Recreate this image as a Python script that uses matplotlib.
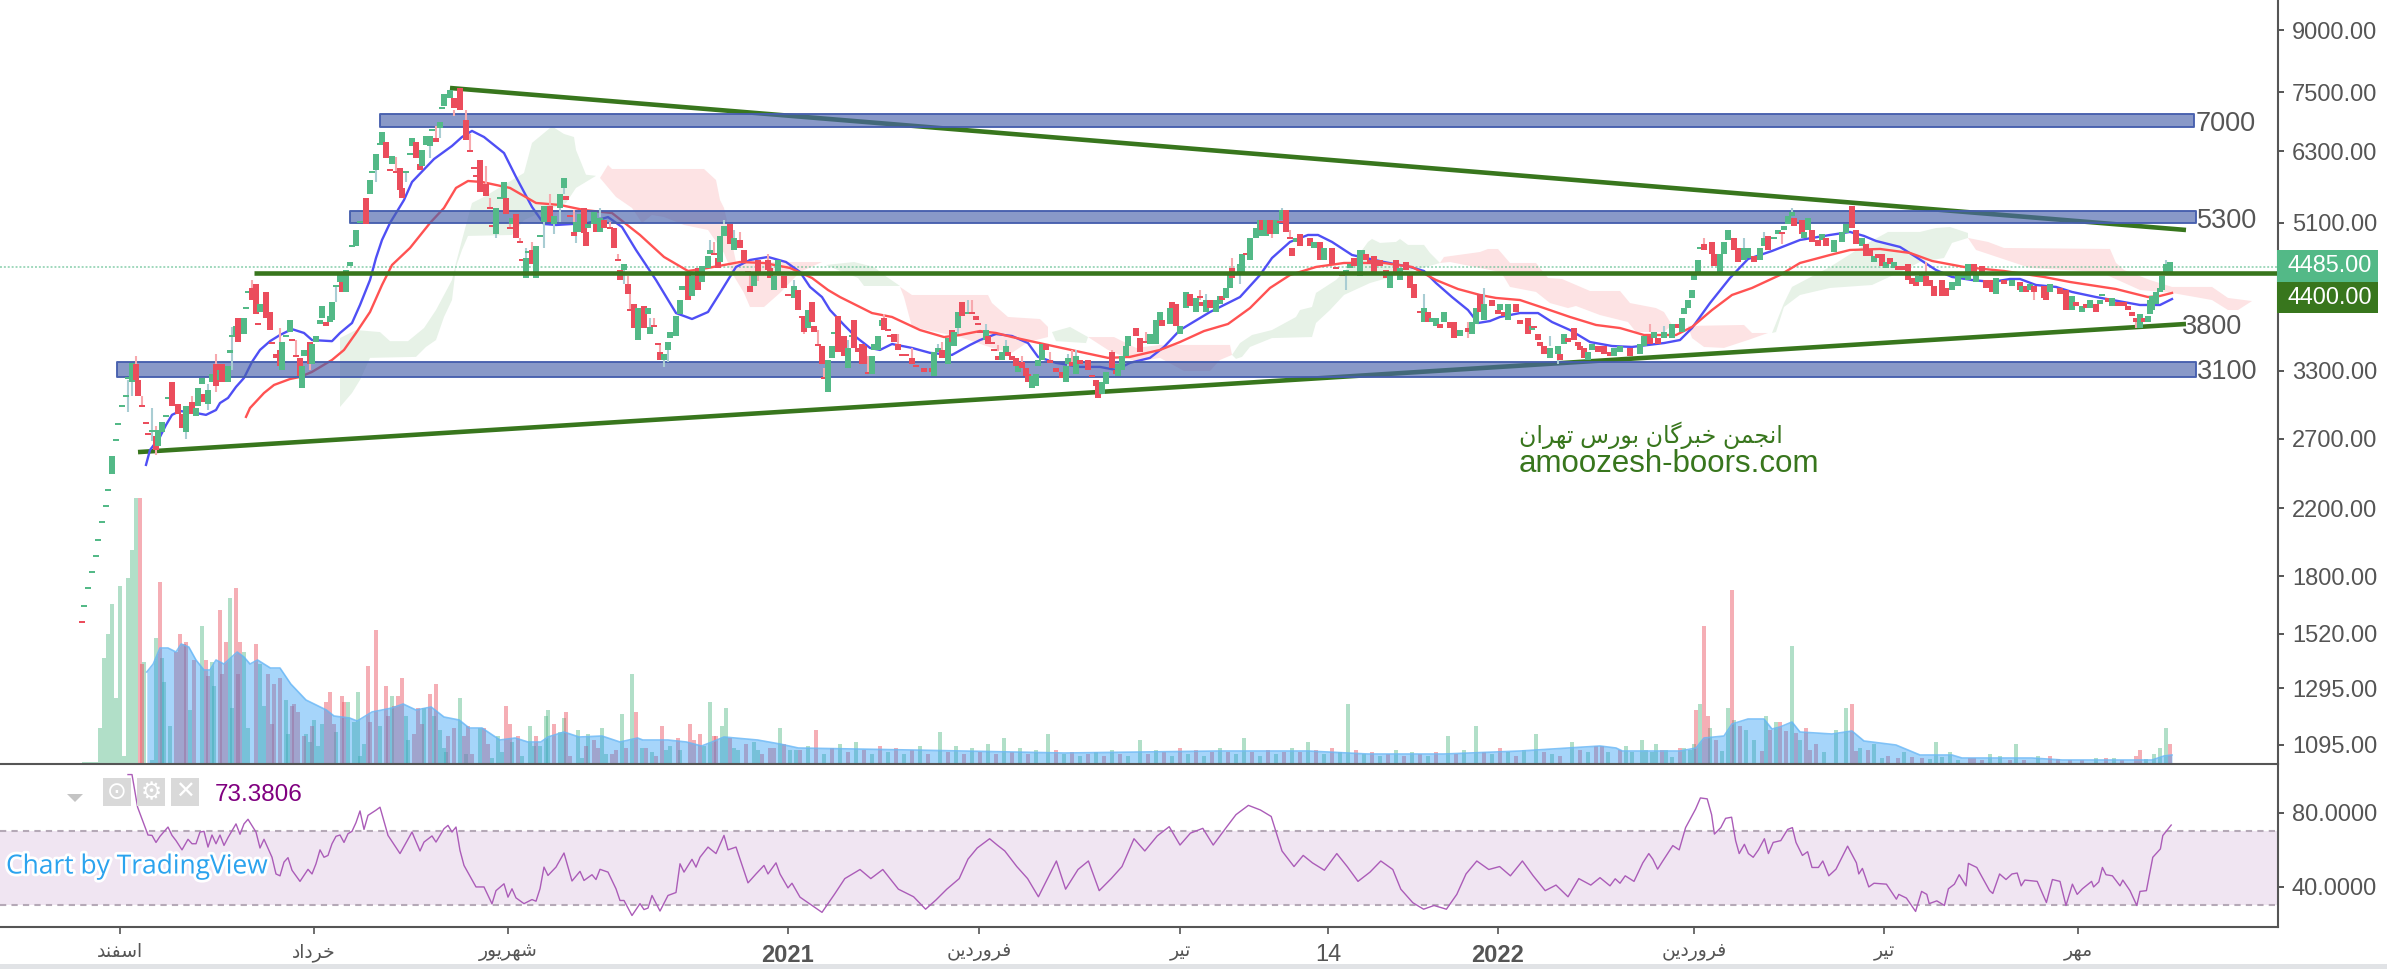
#!/usr/bin/python3
# -*- coding: utf-8 -*-
import numpy as np
import matplotlib
matplotlib.use("Agg")
import matplotlib.pyplot as plt
import matplotlib.patheffects as pe
from matplotlib.patches import Rectangle, Polygon

W, H = 2387, 969
plt.rcParams['font.family'] = ['Liberation Sans', 'DejaVu Sans']

GREEN = '#53b987'
RED = '#eb4d5c'
DARK = '#38761d'
GREY = '#555555'

# candles : bar number, open, close
bar_idx = [0.5, 1, 2, 3, 4, 4.5, 5.5, 6.5, 7, 8,
           9, 9.5, 10.5, 11.5, 12, 13, 14, 14.5, 15.5, 16.5,
           17, 18, 19, 19.5, 20.5, 21.5, 22, 23, 24.5, 25.5,
           26.5, 28, 29, 29.5, 30.5, 31, 32, 33, 34, 35,
           35.5, 37, 37.5, 38, 39, 39.5, 41, 41.5, 42, 43,
           44, 44.5, 45, 46.5, 47.5, 48, 49, 50, 50.5, 51.5,
           52.5, 53, 54, 55, 55.5, 56, 57.5, 58, 59, 60,
           60.5, 61.5, 62.5, 63, 64, 65, 65.5, 66.5, 67.5, 68,
           69, 70, 71.5, 72.5, 73, 74, 75, 75.5, 76.5, 77.5,
           78, 79, 80, 80.5, 81.5, 82.5, 83, 84, 85, 85.5,
           86.5, 87.5, 88, 89, 90, 90.5, 91, 92.5, 93.5, 95,
           96.5, 97.5, 98.5, 99, 100, 101.5, 102.5, 103, 104, 105,
           106, 106.5, 107.5, 108, 109, 110, 110.5, 111.5, 112, 113,
           114, 115, 116, 117.5, 118.5, 120, 121, 121.5, 122.5, 123.5,
           124, 125, 126, 126.5, 127, 128.5, 129, 130, 131, 132.5,
           133.5, 134.5, 135, 136, 137, 137.5, 138.5, 139.5, 141, 142,
           142.5, 143.5, 144.5, 145, 146, 147, 147.5, 149, 150, 150.5,
           152, 153, 154.5, 155.5, 157, 157.5, 158.5, 159.5, 160, 161,
           162.5, 163.5, 165, 166, 167, 167.5, 168.5, 169.5, 172, 172.5,
           173.5, 174.5, 176, 177, 178.5, 179.5, 180.5, 181, 182, 183,
           183.5, 184.5, 185.5, 186, 187, 188, 188.5, 189.5, 191, 192,
           193, 193.5, 194.5, 195.5, 196, 197, 198, 198.5, 199.5, 200.5,
           201, 202, 202.5, 203.5, 204.5, 205.5, 206.5, 208, 209, 211,
           213, 213.5, 214.5, 215.5, 217, 218, 218.5, 219.5, 220.5, 222,
           223, 224, 224.5, 225, 226.5, 227, 228, 228.5, 229.5, 230.5,
           231.5, 232, 233, 234, 234.5, 235.5, 236.5, 237, 238, 239,
           239.5, 240.5, 241.5, 242.5, 244, 245.5, 246.5, 247, 248, 249,
           250, 252, 253, 254, 254.5, 255.5, 256.5, 258, 259, 259.5,
           260.5, 261.5, 262, 264, 265, 266.5, 267.5, 269, 270, 270.5,
           272.5, 273, 274, 275, 276.5, 277.5, 279, 280, 280.5, 281.5,
           282.5, 284, 285, 285.5, 286.5, 287.5, 288, 290, 290.5, 291.5,
           292.5, 294, 295, 295.5, 296.5, 297.5, 298, 299, 300, 300.5,
           301.5, 302.5, 303, 304, 305, 307.5, 308.5, 310, 311, 313,
           314, 315.5, 316.5, 317.5, 318.5, 320, 320.5, 321.5, 322.5, 323.5,
           325, 326.5, 327.5, 329, 330, 331.5, 332.5, 333.5, 335, 336,
           337, 338, 339, 340, 341, 342.5, 343.5, 345, 347, 348,
           349, 350, 351, 353, 354.5, 355, 356, 357, 359, 360,
           362, 363, 363.5, 364.5, 365, 366, 367.5, 369.5, 370, 371,
           372, 373.5, 374.5, 375, 376, 377, 378, 379.5, 381, 382.5,
           383.5, 385, 387.5, 390, 391, 392.5, 393.5, 394.5, 396, 398,
           399.5, 400.5, 401, 402, 403, 403.5, 404.5, 405, 406, 408,
           408.5, 410, 411, 412, 413.5, 414.5, 416, 417, 418.5, 420,
           421, 422, 423.5, 424.5, 425.5, 426, 427, 428, 428.5, 430.5,
           431, 432, 433, 434.5, 435.5, 436.5, 438.5, 440.5, 441.5, 443,
           444, 445.5, 446.5, 447.5, 448.5, 449.5, 450.5, 451.5, 452.5, 453.5,
           454.5, 455.5, 457, 458, 459, 459.5, 460.5, 461.5, 462.5, 463.5,
           465.5, 466.5, 468, 469.5, 471, 472, 473.5, 474, 475.5, 476.5,
           478, 479, 481, 483, 485, 485.5, 486.5, 487.5, 488.5, 491,
           491.5, 492.5, 495, 496.5, 498, 499, 500.5, 501.5, 502.5, 504,
           505, 505.5, 507, 508, 509.5, 511, 512, 513, 514, 515,
           516, 517, 517.5, 518, 519, 520, 520.5, 521.5, 522.5]
bar_open = [1570, 1645, 1734, 1818, 1906, 1998, 2106, 2208, 2315, 2435,
            2682, 2812, 2965, 3054, 3220, 3192, 3367, 3211, 2966, 2821,
            2731, 2755, 2723, 2643, 2755, 2880, 3036, 3192, 2991, 2905,
            2755, 3009, 2888, 2974, 3173, 3081, 2991, 3192, 3367, 3211,
            3367, 3192, 3478, 3644, 3644, 3855, 3677, 3958, 4150, 4211,
            4261, 3776, 3923, 4162, 3923, 3570, 3467, 3508, 3307, 3644,
            3698, 3602, 3437, 3427, 3136, 3447, 3591, 3367, 3591, 3787,
            3855, 3809, 3809, 3832, 4224, 4286, 4286, 4162, 4493, 4752,
            4767, 5100, 5490, 5555, 5910, 5962, 6419, 6419, 6476, 5946,
            6069, 5911, 5998, 5655, 5910, 6232, 6400, 6476, 6069, 6033,
            6419, 6400, 6690, 6552, 6748, 7137, 7200, 7372, 7372, 7592,
            6909, 6288, 5981, 5842, 6140, 5722, 5316, 5041, 4938, 5474,
            5490, 5490, 5011, 5085, 5237, 4810, 4560, 4337, 4669, 4710,
            4337, 4895, 5115, 5363, 5085, 5331, 5655, 5523, 5191, 4967,
            4967, 4967, 5331, 4967, 5025, 5085, 5085, 4967, 5145, 5011,
            5025, 4560, 4440, 4440, 4261, 3935, 4016, 3612, 3993, 3900,
            3677, 3754, 3560, 3488, 3406, 3508, 3633, 3655, 3900, 4186,
            4388, 4113, 4467, 4286, 4467, 4655, 4642, 4600, 4546, 4909,
            5085, 4710, 4851, 4710, 4402, 4236, 4236, 4573, 4573, 4467,
            4186, 4388, 4363, 4114, 4089, 4186, 3856, 3855, 3742, 4040,
            3765, 3550, 3549, 3221, 3099, 3427, 3677, 3877, 3655, 3327,
            3644, 3832, 3529, 3570, 3549, 3270, 3269, 3508, 3508, 3765,
            3855, 3710, 3645, 3677, 3570, 3448, 3448, 3427, 3338, 3327,
            3327, 3249, 3488, 3508, 3367, 3720, 3549, 3742, 4040, 3900,
            3901, 3877, 3776, 3688, 3612, 3655, 3571, 3498, 3447, 3406,
            3488, 3488, 3447, 3427, 3288, 3387, 3327, 3269, 3136, 3155,
            3347, 3406, 3570, 3378, 3327, 3288, 3192, 3367, 3387, 3269,
            3406, 3406, 3240, 3211, 3155, 3081, 3173, 3488, 3307, 3249,
            3307, 3447, 3549, 3742, 3633, 3581, 3570, 3570, 3832, 3832,
            3787, 4040, 4016, 3677, 3969, 4137, 3923, 4090, 4040, 3923,
            4064, 3923, 4016, 4113, 4089, 4211, 4467, 4388, 4414, 4642,
            4573, 4880, 4909, 5145, 4909, 5145, 5085, 4938, 5101, 5145,
            5299, 4866, 4738, 4823, 4938, 4880, 4738, 4823, 4573, 4738,
            4454, 4401, 4388, 4467, 4600, 4363, 4600, 4655, 4573, 4628,
            4573, 4440, 4211, 4573, 4311, 4546, 4388, 4261, 3912, 3809,
            3923, 3809, 3765, 3787, 3809, 3809, 3809, 3655, 3742, 3677,
            3787, 4137, 3832, 4064, 3946, 3946, 3923, 3832, 4016, 3832,
            3855, 3720, 3743, 3677, 3591, 3549, 3427, 3467, 3467, 3570,
            3633, 3742, 3591, 3549, 3529, 3406, 3508, 3549, 3549, 3488,
            3447, 3488, 3529, 3467, 3549, 3655, 3633, 3633, 3633, 3633,
            3787, 3698, 3900, 3969, 4089, 4311, 4388, 4724, 4795, 4823,
            4655, 4388, 4655, 4851, 4880, 4738, 4573, 4600, 4628, 4573,
            4767, 4909, 4865, 4938, 4939, 4996, 5085, 5206, 5175, 5145,
            4880, 4996, 4996, 4851, 4851, 4880, 4682, 4823, 4952, 5363,
            4996, 4767, 4795, 4710, 4546, 4655, 4655, 4467, 4600, 4467,
            4493, 4493, 4520, 4337, 4286, 4286, 4286, 4363, 4311, 4236,
            4311, 4211, 4186, 4236, 4337, 4311, 4520, 4286, 4493, 4311,
            4311, 4137, 4311, 4236, 4286, 4162, 4236, 4186, 4236, 4236,
            4211, 4162, 4211, 4186, 3946, 4040, 3923, 4016, 3969, 4016,
            4016, 4113, 4089, 3993, 4040, 4040, 3993, 3923, 3855, 3742,
            3855, 3809, 3900, 3946, 4016, 4162, 4186, 4388, 4388]
bar_close = [1569, 1645, 1734, 1818, 1906, 1998, 2106, 2208, 2315, 2566,
             2682, 2812, 2965, 3054, 3220, 3377, 3211, 3063, 2965, 2820,
             2730, 2755, 2612, 2771, 2837, 2880, 3036, 2974, 2905, 2788,
             2974, 2905, 2956, 3136, 3230, 3009, 3118, 3269, 3155, 3307,
             3192, 3347, 3478, 3644, 3765, 3591, 3855, 3958, 4150, 4064,
             3900, 3775, 4016, 3855, 3720, 3569, 3427, 3347, 3591, 3644,
             3832, 3601, 3436, 3249, 3347, 3508, 3367, 3570, 3655, 3832,
             3993, 3765, 3877, 4040, 4224, 4388, 4162, 4440, 4546, 4752,
             4996, 5100, 5085, 5789, 5910, 6250, 6419, 6670, 6177, 5945,
             6213, 5910, 5621, 5490, 5945, 6232, 6552, 6177, 5962, 6324,
             6591, 6591, 6690, 6476, 6868, 7137, 7460, 7548, 7158, 7115,
             6513, 6287, 5980, 5841, 5588, 5523, 5315, 5040, 5331, 5474,
             5755, 5237, 5010, 5175, 4880, 4809, 4559, 4600, 4669, 4520,
             4767, 4895, 5363, 5115, 5206, 5555, 5824, 5458, 5190, 4909,
             5115, 5237, 4952, 4767, 5085, 5268, 4967, 5175, 5025, 5010,
             4738, 4559, 4311, 4520, 4137, 3934, 3742, 3969, 3742, 3969,
             3754, 3753, 3559, 3406, 3467, 3591, 3698, 3877, 4064, 4236,
             4064, 4363, 4186, 4493, 4628, 4710, 4641, 4467, 4909, 5055,
             4795, 4880, 4738, 4546, 4401, 4162, 4414, 4388, 4440, 4337,
             4363, 4573, 4211, 4113, 4236, 3946, 3855, 3698, 3946, 3809,
             3698, 3549, 3367, 3220, 3406, 3549, 3677, 3488, 3447, 3529,
             3644, 3529, 3488, 3367, 3367, 3269, 3447, 3570, 3655, 3832,
             3720, 3709, 3644, 3591, 3508, 3447, 3447, 3367, 3337, 3288,
             3288, 3488, 3529, 3427, 3633, 3591, 3698, 3923, 3877, 3900,
             3900, 3832, 3775, 3687, 3720, 3570, 3570, 3497, 3406, 3488,
             3549, 3447, 3406, 3347, 3347, 3327, 3249, 3192, 3249, 3269,
             3406, 3570, 3508, 3377, 3288, 3230, 3347, 3427, 3347, 3447,
             3367, 3307, 3239, 3155, 3045, 3192, 3288, 3327, 3269, 3367,
             3447, 3549, 3655, 3655, 3488, 3580, 3677, 3832, 3923, 3765,
             3969, 3969, 3765, 3765, 4162, 3993, 4089, 4089, 3993, 4064,
             3969, 4064, 4113, 4064, 4211, 4414, 4337, 4520, 4655, 4641,
             4880, 5025, 5145, 4996, 5145, 4938, 4938, 5145, 5100, 5299,
             4967, 4865, 4628, 4880, 4767, 4767, 4823, 4573, 4738, 4520,
             4453, 4363, 4440, 4520, 4493, 4710, 4710, 4573, 4520, 4414,
             4493, 4337, 4414, 4388, 4467, 4440, 4211, 4089, 3911, 3969,
             3809, 3855, 3855, 3742, 3923, 3742, 3633, 3720, 3698, 3809,
             3969, 3923, 4016, 3993, 3900, 4016, 3877, 4016, 3923, 3787,
             3677, 3765, 3742, 3612, 3549, 3467, 3529, 3549, 3406, 3677,
             3591, 3612, 3549, 3508, 3427, 3488, 3570, 3488, 3467, 3447,
             3529, 3549, 3447, 3570, 3655, 3570, 3698, 3570, 3698, 3787,
             3742, 3855, 3969, 4064, 4186, 4388, 4573, 4724, 4710, 4655,
             4493, 4655, 4823, 4996, 4710, 4546, 4738, 4738, 4546, 4738,
             4880, 4710, 4865, 4996, 4938, 5055, 5206, 5268, 5055, 4938,
             4967, 5175, 4823, 4767, 4938, 4767, 4851, 4967, 5085, 5025,
             4795, 4880, 4628, 4628, 4628, 4600, 4493, 4546, 4520, 4546,
             4440, 4440, 4311, 4261, 4236, 4363, 4414, 4236, 4236, 4113,
             4113, 4113, 4286, 4388, 4388, 4520, 4388, 4388, 4388, 4211,
             4162, 4337, 4261, 4311, 4186, 4236, 4162, 4261, 4162, 4089,
             4064, 4261, 4137, 3946, 4113, 3993, 3993, 3969, 4064, 3923,
             4064, 4137, 4040, 4089, 3993, 3993, 3946, 3877, 3809, 3900,
             3809, 3877, 4064, 4113, 4162, 4211, 4363, 4520, 4546]

# wicks : bar number, high, low
wick_idx = [12, 13, 14, 15.5, 18, 19, 26.5, 28, 32, 34, 38, 43, 50, 54, 57.5, 64,
            74, 79, 81.5, 87.5, 89, 90, 93.5, 96.5, 97.5, 101.5, 102.5, 104, 107.5,
            110, 111.5, 113, 116, 117.5, 118.5, 120, 121, 123.5, 124, 130, 132.5,
            134.5, 136, 137, 137.5, 142.5, 143.5, 145, 146, 147, 157.5, 158.5, 161,
            163.5, 165, 167.5, 169.5, 172, 178.5, 181, 184.5, 186, 192, 197, 201,
            204.5, 208, 214.5, 215.5, 219.5, 222, 223, 226.5, 229.5, 231.5, 235.5,
            242.5, 247, 248, 249, 258, 266.5, 280, 281.5, 288, 290, 298, 300.5, 302.5,
            316.5, 336, 347, 351, 367.5, 369.5, 392.5, 396, 406, 416, 421, 425.5,
            428, 461.5, 488.5, 514, 521.5]
wick_high = [3211, 3192, 3447, 3063, 2956, 2803, 2755, 3063, 3173, 3467, 3754, 4311, 3742, 3612, 3591, 4224,
             5962, 6195, 5910, 6419, 6790, 6748, 7115, 7115, 6630, 6033, 5490, 4938, 5175,
             4880, 4738, 4823, 5115, 5555, 5085, 5331, 5655, 5299, 4967, 5331, 5115,
             4655, 4440, 4363, 4137, 3855, 3855, 3559, 3406, 3508, 4851, 4823, 5145,
             4996, 4967, 4402, 4388, 4655, 4311, 3765, 3720, 3327, 3612, 3447, 3900,
             3677, 3529, 3570, 3591, 3742, 4064, 4064, 3787, 3560, 3612, 3447,
             3488, 3467, 3508, 3508, 3508, 3698, 4186, 4137, 4600, 4388, 4938, 5331, 4996,
             4388, 4137, 3809, 4211, 3655, 3467, 3787, 3765, 4880, 4880, 4967, 4938,
             5331, 4546, 4162, 3809, 4573]
wick_low = [2922, 3063, 3367, 2965, 2682, 2574, 2698, 3009, 2939, 3099, 3307, 4064, 3508, 3436, 3307, 4040,
            5755, 5911, 5755, 6177, 6552, 6552, 6990, 6909, 6287, 5722, 5315, 4880, 5010,
            4809, 4600, 4710, 4738, 5363, 4938, 5115, 5555, 5100, 4810, 5190, 5010,
            4559, 4261, 4261, 3934, 3754, 3753, 3406, 3337, 3387, 4710, 4641, 5085,
            4880, 4851, 4236, 4298, 4573, 4236, 3677, 3549, 3220, 3529, 3269, 3855,
            3570, 3427, 3529, 3508, 3677, 3900, 3900, 3720, 3497, 3549, 3387,
            3377, 3347, 3387, 3427, 3488, 3591, 4064, 4064, 4467, 4261, 4880, 5299, 4865,
            4186, 3946, 3633, 4016, 3549, 3367, 3698, 3698, 4795, 4710, 4880, 4795,
            5268, 4311, 4064, 3742, 4520]

# moving averages
ma_fast_idx = [16.5, 17.5, 20, 21.5, 23, 25, 29, 31.5, 34, 35, 37, 39, 41, 43, 45, 47.5, 50, 53, 56, 58,
               63, 65, 68, 70, 72.5, 74, 75.5, 77.5, 81, 83, 88.5, 93, 95.5, 98, 101, 106, 109, 113, 116, 119,
               123, 127, 132, 135.5, 139, 144, 149, 153, 157, 160, 164, 167.5, 172, 176.5, 180, 182.5, 185.5, 187.5, 191, 194,
               197.5, 200, 203, 208, 212.5, 218, 222.5, 225, 229, 233, 237, 239.5, 244, 250, 255, 259, 262.5, 267.5, 271, 275,
               282.5, 290, 295, 298, 302.5, 307, 309.5, 313, 318, 326, 332.5, 336, 339, 343, 347, 349.5, 352.5, 355, 360, 364.5,
               368, 372.5, 377.5, 383, 388, 396, 400, 403, 407.5, 412.5, 417, 423, 430, 437.5, 442.5, 446, 449, 455, 459, 464,
               468, 473, 478, 482.5, 485, 489, 494, 498, 504, 511, 515, 520, 523]
ma_fast = [2500, 2612, 2715, 2812, 2897, 2930, 2913, 2897, 2939, 3000, 3045, 3146, 3230, 3387, 3508, 3600, 3666, 3730, 3688, 3612,
           3600, 3688, 3798, 4005, 4311, 4600, 4851, 5100, 5458, 5755, 6158, 6400, 6571, 6690, 6571, 6268, 5841, 5347, 5085, 5070,
           5085, 5100, 5190, 5040, 4710, 4311, 3911, 3843, 3923, 4150, 4480, 4573, 4614, 4546, 4414, 4224, 4100, 3946, 3776, 3644,
           3529, 3508, 3570, 3529, 3478, 3457, 3560, 3612, 3677, 3655, 3580, 3437, 3377, 3337, 3337, 3307, 3377, 3427, 3539, 3720,
           3923, 4100, 4375, 4600, 4823, 4923, 4923, 4823, 4641, 4546, 4480, 4427, 4273, 4100, 3946, 3798, 3820, 3866, 3911, 3911,
           3809, 3720, 3591, 3549, 3539, 3580, 3612, 3742, 4028, 4337, 4586, 4696, 4851, 4923, 4967, 4909, 4837, 4752, 4614, 4440,
           4350, 4311, 4286, 4324, 4324, 4248, 4224, 4162, 4100, 4040, 4005, 4005, 4076]
ma_slow_idx = [41.5, 42.5, 46, 48.5, 52.5, 55, 58, 63, 66, 69, 72.5, 75.5, 78, 82.5, 87.5, 91, 94, 97, 100.5, 107.5,
               114, 120, 126, 133, 140, 146, 152, 157, 165, 171, 177.5, 183, 187, 190, 195, 198, 203, 210, 216, 220,
               225, 229, 233, 242, 250, 257, 262.5, 270, 275, 281, 287, 292.5, 297.5, 302.5, 309, 316, 326, 333, 339, 344.5,
               350, 354, 360, 366, 372.5, 379, 385, 391, 399, 403, 408, 413, 418, 425, 430, 437.5, 442.5, 450, 457.5, 463,
               471, 481, 491, 497.5, 509, 517, 520, 523]
ma_slow = [2880, 2956, 3090, 3164, 3220, 3240, 3288, 3406, 3508, 3688, 3923, 4248, 4506, 4738, 5100, 5331, 5655, 5772, 5755, 5655,
           5410, 5378, 5299, 5252, 4923, 4614, 4427, 4467, 4546, 4533, 4467, 4337, 4186, 4100, 3981, 3911, 3866, 3720, 3644, 3666,
           3709, 3688, 3644, 3560, 3488, 3427, 3437, 3508, 3591, 3709, 3787, 3969, 4211, 4375, 4480, 4533, 4533, 4480, 4311, 4198,
           4125, 4089, 4064, 3969, 3866, 3776, 3742, 3666, 3666, 3754, 3946, 4125, 4211, 4375, 4533, 4641, 4710, 4724, 4669, 4560,
           4480, 4427, 4350, 4286, 4198, 4100, 4113, 4150]

# ichimoku cloud outlines, bar number and price
cloud_green_idx = [
    [65, 69, 75, 77.5, 82, 86, 89, 93, 94, 95.5, 98, 101, 111, 113, 118, 121, 123.5, 124, 126.5, 129,
     124, 121.5, 115, 111, 108, 97, 95.5, 94, 93, 91, 89, 86.5, 84, 72.5, 70, 68, 65],
    [186.5, 193.5, 198.5, 201, 205, 196, 194.5, 189.5],
    [243, 247.5, 252, 251.5, 244],
    [288, 290, 293, 298, 304, 305, 308, 309, 314, 316, 320, 322, 323, 325, 329, 330, 332, 336, 337.5, 340,
     322.5, 316, 312.5, 309, 308, 298, 292.5, 290.5, 289],
    [423, 426, 428, 437.5, 447, 452, 460, 464, 467.5, 472, 472, 468, 466, 460, 455, 448, 437.5, 430, 426, 424]]
cloud_green_price = [
    [3633, 3720, 3698, 3600, 3600, 3742, 3946, 4311, 4533, 4851, 5410, 5507, 5910, 6457, 6780, 6630, 6571, 6324, 5880, 5860,
     5655, 5410, 5252, 5145, 4923, 4909, 4710, 4480, 4064, 3866, 3612, 3539, 3437, 3427, 3211, 3090, 2965],
    [4506, 4546, 4480, 4375, 4236, 4236, 4337, 4440],
    [3698, 3754, 3644, 3580, 3600],
    [3457, 3580, 3666, 3720, 3866, 3946, 3981, 4150, 4311, 4414, 4669, 4823, 4865, 4809, 4823, 4865, 4781, 4781, 4669, 4533,
     4273, 4125, 3946, 3798, 3644, 3633, 3539, 3437, 3417],
    [3688, 4028, 4224, 4480, 4809, 4967, 4967, 5025, 5040, 4952, 4880, 4809, 4600, 4546, 4414, 4248, 4211, 4125, 3981, 3698]]
cloud_red_idx = [
    [130, 132, 133, 156, 159, 160, 161, 162.5, 164, 185.5, 180, 175, 171, 167.5, 166, 163, 161, 157, 151, 146, 143, 140.5, 138, 134],
    [205, 208, 227, 228, 232, 240, 242, 242, 237, 233, 228, 220, 208, 206],
    [252, 258.5, 264, 270, 287.5, 288, 285, 282.5, 276, 270, 264, 257],
    [340, 341, 350, 352, 354.5, 357.5, 364, 367, 370.5, 377.5, 385, 387.5, 394, 396, 398,
     396, 389, 387, 380, 374, 372, 367.5, 364, 357.5, 356, 355, 350, 342.5],
    [402, 416, 418, 422, 417, 411, 406, 403],
    [472, 477, 481, 507.5, 509, 511, 517.5, 523, 533, 537, 543, 539.5, 537, 533, 523, 515, 505, 487.5, 474]]
cloud_red_price = [
    [5824, 6051, 5980, 5980, 5789, 5458, 5331, 4952, 4546, 4546, 4414, 4150, 3981, 3981, 4150, 4401, 4669, 4996, 5070, 5190, 5221, 5100, 5331, 5507],
    [4224, 4125, 4125, 4028, 3866, 3843, 3754, 3644, 3591, 3478, 3529, 3644, 3754, 4100],
    [3644, 3644, 3529, 3560, 3560, 3457, 3406, 3297, 3297, 3427, 3387, 3508],
    [4533, 4614, 4682, 4724, 4724, 4533, 4533, 4337, 4324, 4174, 4174, 4028, 3969, 3923, 3776,
     3698, 3698, 3809, 3888, 3993, 3969, 4028, 4162, 4224, 4350, 4414, 4467, 4546],
    [3765, 3776, 3688, 3688, 3612, 3529, 3539, 3633],
    [4880, 4823, 4738, 4724, 4533, 4440, 4311, 4224, 4224, 4089, 4052, 3946, 3946, 4064, 4150, 4186, 4414, 4467, 4710]]

# support and resistance drawn on the chart
band_start = [75, 67.5, 9.25]
band_end = [528.5, 529, 529]
band_low = [6768, 5100, 3240]
band_high = [7022, 5291, 3381]
band_label = ['7000', '5300', '3100']
band_label_price = [6820, 5130, 3285]
trend_top_idx = [92.5, 526.5]
trend_top_price = [7592, 4996]
trend_low_idx = [14.5, 526.5]
trend_low_price = [2596, 3787]
level_price = 4400
last_price = 4485

# volume, heights as read against the pane
vol_green_idx = [1, 2, 3, 4, 5, 6, 7, 8, 9, 10, 11, 12, 13, 14, 16, 18, 19, 20.5, 21, 22.5,
                 27.5, 30.5, 33, 33.5, 37.5, 38, 41, 42, 45, 46, 51.5, 52, 56.5, 57.5, 58.5, 59.5, 60.5, 64, 67, 68.5,
                 69.5, 70, 71, 75, 78, 81.5, 82, 86, 88.5, 90, 91, 91.5, 95, 96.5, 100, 103, 104.5, 105.5, 108, 110.5,
                 112.5, 113.5, 115, 116.5, 117, 120, 121, 124.5, 125.5, 127, 130.5, 131.5, 135.5, 138, 140.5, 143, 146.5, 147.5, 150, 156,
                 157.5, 160.5, 161.5, 163.5, 164.5, 168.5, 169.5, 175, 177.5, 179,
                 182, 186, 190, 194, 198, 202, 206, 210, 215, 219, 223, 227, 231, 235, 239, 242, 246, 250, 254, 258,
                 262, 265, 269, 273, 277, 281, 285, 289, 291, 295, 299, 303, 307, 311, 315, 317, 321, 325, 329, 333,
                 337, 342, 346, 349, 353, 357, 361, 364, 368, 373, 377,
                 382, 386.5, 388, 390.5, 391.5, 393, 394, 396.5, 398, 401, 402.5, 403.5, 405, 407.5, 410.5, 412, 413.5, 416.5, 418.5, 421.5,
                 424, 428, 430, 436, 439, 441.5, 445, 448.5, 450.5, 456, 462.5, 464, 465.5, 467.5, 469.5, 477.5, 480, 484, 489.5, 504,
                 508.5, 516.5, 518.5, 520, 521.5]
vol_green = [2, 2, 2, 2, 36, 106, 130, 160, 66, 178, 8, 186, 214, 266, 102, 4, 126, 106, 82, 38,
             54, 138, 102, 78, 166, 56, 112, 36, 100, 58, 64, 30, 30, 22, 44, 18, 40, 32, 62, 42,
             72, 8, 20, 38, 68, 48, 24, 56, 48, 34, 16, 12, 66, 10, 36, 6, 28, 12, 22, 8,
             38, 18, 18, 48, 54, 32, 46, 34, 6, 30, 36, 10, 50, 90, 16, 12, 14, 18, 14, 18,
             62, 38, 56, 16, 14, 22, 14, 36, 14, 14,
             18, 10, 20, 22, 10, 12, 10, 18, 32, 18, 16, 20, 26, 16, 14, 30, 10, 8, 12, 14,
             8, 24, 14, 8, 10, 8, 16, 10, 26, 8, 10, 16, 22, 10, 12, 60, 10, 8, 14, 12,
             8, 28, 14, 38, 10, 12, 14, 30, 10, 22, 12,
             12, 18, 12, 24, 14, 12, 20, 14, 7, 16, 14, 20, 60, 36, 13, 56, 44, 34, 24, 48,
             42, 118, 24, 12, 34, 56, 16, 20, 6, 12, 5, 22, 7, 12, 4, 10, 8, 20, 8, 6,
             6, 5, 10, 16, 36]
vol_red_idx = [15, 15.5, 20, 24, 25, 26, 26.5, 28.5, 31.5, 32, 35, 35.5, 36.5, 39, 39.5, 40, 44, 47, 48, 48.5,
               50, 53, 53.5, 54.5, 56, 58, 61.5, 62.5, 63.5, 65.5, 66, 72, 72.5, 74, 76.5, 77, 78.5, 79.5, 80.5, 83.5,
               84.5, 85.5, 87.5, 89, 92, 93.5, 96, 97, 98, 101, 102, 106.5, 107.5, 109.5, 114, 118.5, 121.5, 122.5, 126.5, 128.5,
               129.5, 133, 134, 136.5, 139, 141.5, 144, 145.5, 149.5, 152.5, 153.5, 155, 158.5, 159, 162.5, 166.5, 170.5, 172.5, 173.5, 176,
               180, 184, 188, 192, 196, 200, 204, 208, 212, 217, 221, 225, 229, 233, 237, 244, 248, 252, 256, 260,
               267, 271, 275, 279, 283, 287, 293, 297, 301, 305, 309, 313, 319, 323, 327, 331, 335, 339, 344, 351,
               355, 359, 366, 370, 375, 379,
               380.5, 385, 395.5, 400, 404, 406, 407, 409, 413, 415, 420.5, 422.5, 425, 426.5, 429, 431.5, 432.5, 434, 443, 444,
               447, 452, 454.5, 458, 460.5, 472.5, 473.5, 475.5, 482.5, 486, 492.5, 494.5, 497.5, 500.5, 506.5, 510.5, 514, 515, 522.5]
vol_red = [266, 100, 182, 112, 130, 120, 122, 104, 104, 88, 154, 90, 122, 176, 90, 122, 120, 90, 40, 80,
           86, 58, 60, 52, 28, 38, 62, 72, 40, 68, 62, 98, 42, 134, 78, 48, 58, 68, 86, 30,
           56, 40, 70, 80, 28, 36, 28, 38, 10, 36, 20, 58, 40, 28, 28, 40, 52, 8, 18, 24,
           16, 10, 14, 16, 52, 16, 8, 38, 26, 40, 24, 30, 28, 28, 26, 20, 10, 16, 16, 20,
           14, 34, 16, 12, 14, 18, 16, 14, 10, 12, 10, 12, 10, 12, 10, 14, 12, 10, 8, 10,
           10, 12, 16, 14, 12, 12, 12, 14, 12, 12, 14, 16, 14, 12, 10, 8, 10, 12, 10, 12,
           16, 8, 12, 8, 14, 18,
           18, 14, 14, 16, 54, 138, 48, 24, 174, 38, 13, 34, 42, 33, 31, 36, 14, 20, 60, 13,
           14, 8, 6, 7, 6, 6, 6, 4, 4, 4, 8, 5, 4, 4, 6, 4, 8, 14, 20]
vol_ma_idx = [16.7, 18.3, 20, 22, 24, 25.3, 27.2, 29, 31, 32.5, 34, 36, 39.3, 41, 42.5, 44.4, 47.6, 50, 52.7, 56.5,
              61.6, 63.5, 67.4, 69.3, 73, 78, 80.8, 84, 87.8, 91, 94.8, 97.3, 100.5, 105, 108.8, 112, 115.2, 117, 121, 124.8,
              130.5, 135, 139.4, 140.7, 147, 151.6, 155.4, 158, 161, 169.4, 175, 179.6, 208, 246, 284.5, 307, 322, 341, 360, 380,
              384, 385.6, 400, 404, 406, 411, 413, 417, 421, 423, 425, 428, 430, 438, 443, 446, 454, 460, 468, 470.5,
              488, 495.6, 518, 521, 523]
vol_ma = [92, 100, 116, 116, 112, 120, 117, 104, 94, 94, 104, 100, 112, 107, 100, 104, 96, 96, 80, 64,
          54, 48, 46, 43, 52, 56, 60, 54, 57, 47, 44, 36, 36, 24, 26, 22, 22, 27, 32, 27,
          28, 22, 26, 24, 24, 22, 18, 22, 27, 24, 20, 16, 14, 11, 13, 13, 10, 10, 13, 18,
          16, 13, 13, 16, 26, 28, 40, 45, 45, 35, 37, 42, 32, 30, 33, 23, 19, 9, 9, 6,
          6, 4, 4, 8, 9]

# rsi
rsi_idx = [12, 13, 14.4, 17, 18, 19, 20, 22, 23, 24, 25.5, 27, 28, 29, 30, 31, 32, 33, 34, 35,
           36, 37, 39, 40, 41, 42, 44, 45, 46, 48, 49, 50, 51, 52, 53, 55, 57, 58, 59, 60,
           61, 62, 63, 64, 65, 66, 67, 68, 69, 70, 71, 72, 74, 75, 77, 80, 82, 83, 85, 86,
           88, 89, 91, 92, 93, 94, 95, 96, 99, 101, 103, 104, 106, 107, 108, 109, 111, 113, 114, 115,
           116, 117, 119, 121, 123, 125, 126, 128, 129, 130, 132, 134, 135, 136, 138, 140, 141, 142, 143, 145,
           147, 149, 150, 151, 153, 154, 155, 157, 159, 161, 162, 164, 167, 169, 171, 172, 174, 175, 177, 178,
           180, 185.5, 188.6, 191.2, 195, 197.7, 200.7, 204.6, 208.4, 211.4, 214, 216.7, 219.8, 222, 224.3, 227.4, 229.3, 231.2, 234.2, 236.9,
           239.6, 241.9, 244.1, 246.4, 249.5, 252.1, 254.8, 257.8, 260.5, 263.5, 266.2, 269.3, 272.3, 275, 277.6, 280.7, 283.3, 286.4, 289, 292.1,
           295.1, 297.8, 300.5, 303.5, 305.8, 308.1, 311.1, 314.2, 316.8, 319.5, 322.5, 325.2, 328.2, 330.2, 333.2, 335.9, 338.5, 341.6, 344.2, 346.5,
           349.2, 352.2, 354.9, 357.6, 360.6, 363.3, 366.3, 369, 372, 374.7, 377.7,
           380, 382.5, 383.8, 385, 386.3, 388.5, 390.7, 392.2, 393.2, 394.4, 395.7, 398.2, 399.8, 401.4, 403.9, 405.1, 406.8, 407.9, 408.6, 410.2,
           411.4, 412.9, 413.9, 414.8, 416.1, 417.1, 418.3, 419.6, 421.1, 422.1, 423.3, 425.2, 426.9, 428.1, 429, 430.6, 431.9, 433, 434.6, 435.7,
           437.2, 439, 441.9, 444.1, 444.7, 445.6, 447.2, 448.5, 451.6, 454.1, 454.7, 456.6, 458.9, 460.4, 461.7, 462.3, 464.2, 466.1, 467.1, 468.6,
           469.8, 471.5, 472.1, 474.2, 477.4, 478.2, 479.9, 481.5, 483, 484.3, 485.3, 486.2, 489.3, 491.6, 493.1, 495, 496.5, 498.1, 499.3, 500.6,
           502.9, 503.4, 504.7, 505.6, 506.5, 508.1, 510, 510.7, 512.5, 514.2, 515, 516.6, 518.2, 520.1, 520.7, 522.8]
rsi = [100.6, 100.6, 83, 68, 67.8, 64, 67.3, 72.3, 67.8, 65, 60, 65.7, 63.3, 63.3, 69.6, 70, 61.5, 68, 63.3, 68,
       62.4, 66.6, 74, 68.4, 74, 76.5, 69.6, 61, 65.7, 56, 47, 46, 53.4, 55.8, 49, 43, 49.5, 47, 52.5, 60,
       56, 57, 63.3, 67.3, 68, 64, 68.7, 70, 74.7, 81, 71, 78.6, 81.4, 83, 67.8, 58, 65.7, 69.6, 59.4, 64.2,
       67.5, 64.2, 71.4, 73.2, 69.6, 72.3, 59.7, 51.6, 40, 40, 30.9, 38, 41.7, 34.5, 39, 34.1, 31, 33.2, 32.3, 39,
       50.7, 46.2, 50.7, 58.3, 43.2, 48.4, 43.5, 46.6, 44, 49.5, 48, 39, 32.7, 32.7, 24.6, 31, 27.8, 28.6, 35.4, 27,
       35.4, 37, 52.5, 48, 54.9, 50.7, 56, 61.5, 58, 67.8, 60, 61.5, 42.2, 47, 51.6, 47, 53, 47, 39.5, 42,
       34.5, 26.3, 36, 44.5, 49.4, 44.5, 49.4, 38.8, 34.7, 28, 33, 38.8, 44.5, 55, 61, 66, 62.6, 59.4, 51, 44.5,
       34.7, 44.5, 54, 38.8, 49.4, 54, 38, 44.5, 51, 66, 59.4, 67.5, 72.5, 62.6, 69, 71.6, 62.6, 71.6, 79, 84,
       81.5, 78, 59.4, 51, 57, 53, 49, 58, 51, 43, 48, 54, 49.4, 38.8, 31.5, 28, 30, 28, 36, 47,
       54, 49.4, 51, 46, 54, 46, 38, 41, 34.7, 44.5, 41,
       45, 40.6, 44.4, 42, 46, 43, 53, 58, 55, 49.6, 54, 62.3, 60, 72, 82, 88, 87.5, 79, 68.5, 72,
       77, 77.6, 65, 58, 63, 58, 56, 60, 66, 58, 64, 65, 71, 72, 64, 57, 59, 50.5, 50.5, 54,
       46, 49.6, 62, 53, 47, 50, 40, 42, 41.5, 33.4, 36, 34, 26.8, 37.6, 36, 31, 32.5, 30, 39, 41.5,
       46.6, 40.6, 52.7, 50.5, 38, 36.5, 47, 44, 47, 47.5, 40.6, 43.7, 43, 31.6, 44, 43, 30, 41.5, 36, 39,
       43, 40, 42.7, 50.5, 46.6, 46, 40.6, 43.7, 38, 30, 37.6, 38, 56, 60.5, 67.7, 73.38]

# x axis
tick_idx = [10, 58.5, 107, 177, 224.75, 275, 312, 354.5, 403.5, 451, 499.5]
tick_name = ['اسفند', 'خرداد', 'شهریور', '2021', 'فروردین', 'تیر', '14', '2022', 'فروردین', 'تیر', 'مهر']
price_ticks = [9000, 7500, 6300, 5100, 3300, 2700, 2200, 1800, 1520, 1295, 1095]
rsi_ticks = [40, 80]

FORMS = {'ا': (0xFE8D, 0xFE8E, None, None), 'ب': (0xFE8F, 0xFE90, 0xFE91, 0xFE92),
         'ت': (0xFE95, 0xFE96, 0xFE97, 0xFE98), 'ج': (0xFE9D, 0xFE9E, 0xFE9F, 0xFEA0),
         'خ': (0xFEA5, 0xFEA6, 0xFEA7, 0xFEA8), 'د': (0xFEA9, 0xFEAA, None, None),
         'ر': (0xFEAD, 0xFEAE, None, None), 'س': (0xFEB1, 0xFEB2, 0xFEB3, 0xFEB4),
         'ش': (0xFEB5, 0xFEB6, 0xFEB7, 0xFEB8), 'ف': (0xFED1, 0xFED2, 0xFED3, 0xFED4),
         'گ': (0xFB92, 0xFB93, 0xFB94, 0xFB95), 'م': (0xFEE1, 0xFEE2, 0xFEE3, 0xFEE4),
         'ن': (0xFEE5, 0xFEE6, 0xFEE7, 0xFEE8), 'ه': (0xFEE9, 0xFEEA, 0xFEEB, 0xFEEC),
         'و': (0xFEED, 0xFEEE, None, None), 'ی': (0xFBFC, 0xFBFD, 0xFBFE, 0xFBFF)}


def shape_fa(s):
    # matplotlib has no arabic shaping, so pick the joined forms by hand
    if s[0] not in FORMS:
        return s
    out = []
    for i, ch in enumerate(s):
        if ch not in FORMS:
            out.append(ch)
            continue
        prev = s[i - 1] if i > 0 else ' '
        nxt = s[i + 1] if i + 1 < len(s) else ' '
        join_r = prev in FORMS and FORMS[prev][2] is not None
        join_l = nxt in FORMS and FORMS[ch][2] is not None
        form = FORMS[ch][3 if join_r and join_l else 1 if join_r else 2 if join_l else 0]
        out.append(chr(form))
    return ''.join(reversed(out))


def fx(px):
    return px / W


def fy(px):
    return 1 - px / H


fig = plt.figure(figsize=(W / 100, H / 100), dpi=100, facecolor='white')
ax_vol = fig.add_axes([0, fy(764), fx(2278), 764 / H], zorder=1)
ax = fig.add_axes([0, fy(764), fx(2278), 764 / H], zorder=2, sharex=ax_vol)
ax.patch.set_alpha(0)
ax_rsi = fig.add_axes([0, fy(927), fx(2278), 163 / H], sharex=ax_vol)

# volume pane
ax_vol.bar(vol_green_idx, vol_green, width=0.85, color=GREEN, alpha=0.45, linewidth=0)
ax_vol.bar(vol_red_idx, vol_red, width=0.85, color=RED, alpha=0.45, linewidth=0)
ax_vol.fill_between(vol_ma_idx, vol_ma, color='#2196f3', alpha=0.4, linewidth=0)
ax_vol.plot(vol_ma_idx, vol_ma, color='#64b5f6', lw=1.2, alpha=0.8)
ax_vol.set_ylim(0, 764)
ax_vol.axis('off')

# price pane
ax.set_yscale('log')
for xs, ys in zip(cloud_green_idx, cloud_green_price):
    ax.add_patch(Polygon(np.column_stack([xs, ys]), closed=True, fc='#e7f2e7', ec='none', zorder=1))
for xs, ys in zip(cloud_red_idx, cloud_red_price):
    ax.add_patch(Polygon(np.column_stack([xs, ys]), closed=True, fc='#fde3e4', ec='none', zorder=1))

ax.axhline(last_price, color=GREEN, lw=1.4, ls=(0, (1, 1)), alpha=0.55, zorder=2)
ax.plot(trend_top_idx, trend_top_price, color=DARK, lw=3.3, zorder=2, solid_capstyle='butt')
ax.plot(trend_low_idx, trend_low_price, color=DARK, lw=3.3, zorder=2, solid_capstyle='butt')
ax.plot(ma_fast_idx, ma_fast, color='#4f4ff5', lw=1.7, zorder=2.2)
ax.plot(ma_slow_idx, ma_slow, color='#ff5252', lw=1.7, zorder=2.2)

for x0, x1, lo, hi, label, lab_p in zip(band_start, band_end, band_low, band_high, band_label, band_label_price):
    ax.fill_between([x0, x1], lo, hi, facecolor=(0.29, 0.39, 0.67, 0.65),
                    edgecolor=(0.27, 0.37, 0.68, 0.95), lw=1.4, zorder=3)
    ax.text(x1 + 0.3, lab_p, label, fontsize=19.5, color=GREY, va='center', ha='left', zorder=7)
ax.text(525.5, 3750, '3800', fontsize=19.5, color=GREY, va='center', ha='left', zorder=7)

opens = np.array(bar_open, dtype=float)
closes = np.array(bar_close, dtype=float)
idx = np.array(bar_idx)
up = closes >= opens
# a doji still shows as a short dash
heights = np.maximum(np.abs(closes - opens), 0.007 * closes)
lows = np.minimum(opens, closes)

wick_x = np.array(wick_idx)
nearest = np.array([np.argmin(np.abs(idx - w)) for w in wick_x])
wick_col = ['#a9cdd3' if up[n] else '#f7a9ae' for n in nearest]
ax.vlines(wick_x, wick_low, wick_high, colors=wick_col, lw=1.5, zorder=4)
ax.bar(idx, heights, bottom=lows, width=1.65, color=[GREEN if u else RED for u in up],
       linewidth=0, zorder=5)

ax.plot([43.5, 549.5], [level_price, level_price], color=DARK, lw=3.3, zorder=6, solid_capstyle='butt')

ax.text(359.75, 2730, shape_fa('انجمن خبرگان بورس تهران'), fontsize=17, color=DARK, va='center', ha='left')
ax.text(359.75, 2507, 'amoozesh-boors.com', fontsize=22.5, color=DARK, va='center', ha='left')

ax.set_xlim(-20, 549.5)
ax.set_ylim(1035.3, 9840)
ax.yaxis.tick_right()
ax.set_yticks(price_ticks)
ax.set_yticklabels(['%.2f' % p for p in price_ticks])
ax.minorticks_off()
ax.tick_params(axis='y', which='major', length=4, width=1.4, color=GREY, labelcolor=GREY,
               labelsize=17, pad=6)
ax.tick_params(axis='x', which='both', bottom=False, labelbottom=False)
for name in ['top', 'left']:
    ax.spines[name].set_visible(False)
ax.spines['right'].set_color(GREY)
ax.spines['right'].set_linewidth(1.5)
ax.spines['bottom'].set_color(GREY)
ax.spines['bottom'].set_linewidth(1.5)

# rsi pane
ax_rsi.axhspan(30, 70, color='#f0e5f2', lw=0)
ax_rsi.axhline(70, color='#b5a9b7', lw=1.5, ls=(0, (3, 2.5)))
ax_rsi.axhline(30, color='#b5a9b7', lw=1.5, ls=(0, (3, 2.5)))
ax_rsi.plot(rsi_idx, rsi, color='#ab5cb8', lw=1.0)
ax_rsi.set_ylim(18.4, 106.3)
ax_rsi.yaxis.tick_right()
ax_rsi.set_yticks(rsi_ticks)
ax_rsi.set_yticklabels(['%.4f' % v for v in rsi_ticks])
ax_rsi.tick_params(axis='y', length=4, width=1.4, color=GREY, labelcolor=GREY, labelsize=17, pad=6)
ax_rsi.set_xticks(tick_idx)
ax_rsi.set_xticklabels([shape_fa(t) for t in tick_name])
ax_rsi.tick_params(axis='x', length=5, width=1.2, color=GREY, labelcolor=GREY, labelsize=13.5, pad=7)
for lab, t in zip(ax_rsi.get_xticklabels(), tick_name):
    if t.startswith('20'):
        lab.set_fontweight('bold')
        lab.set_fontsize(17)
    elif t == '14':
        lab.set_fontsize(17)
for name in ['top', 'left']:
    ax_rsi.spines[name].set_visible(False)
ax_rsi.spines['right'].set_color(GREY)
ax_rsi.spines['right'].set_linewidth(1.5)
ax_rsi.spines['bottom'].set_color(GREY)
ax_rsi.spines['bottom'].set_linewidth(1.5)

fig.text(fx(6), fy(867), 'Chart by TradingView', fontsize=19, color='#2ba3ee', family='Open Sans', va='center',
         zorder=20, path_effects=[pe.withStroke(linewidth=4, foreground='white')])
fig.text(fx(215), fy(795), '73.3806', fontsize=17.5, color='#800080', va='center', zorder=20)

# price chips and pane buttons
for y0, y1, col, txt in [(250, 282, GREEN, '4485.00'), (282, 313, DARK, '4400.00')]:
    fig.add_artist(Rectangle((fx(2277), fy(y1)), 101 / W, (y1 - y0) / H, transform=fig.transFigure,
                             fc=col, ec='none', zorder=15))
    fig.text(fx(2288), fy((y0 + y1) / 2), txt, fontsize=16.8, color='white', va='center', zorder=16)

fig.add_artist(Polygon([(fx(67), fy(794)), (fx(83), fy(794)), (fx(75), fy(802))], closed=True,
                       transform=fig.transFigure, fc='#c4c4c4', ec='none', zorder=15))
for x0, glyph in [(103, '⊙'), (137, '⚙'), (171, '✕')]:
    fig.add_artist(Rectangle((fx(x0), fy(806)), 28 / W, 28 / H, transform=fig.transFigure,
                             fc='#d9d9d9', ec='none', zorder=15))
    fig.text(fx(x0 + 14), fy(792), glyph, fontsize=17, color='white', family='DejaVu Sans',
             ha='center', va='center', zorder=16)

# grey strip at the foot of the widget
fig.add_artist(Rectangle((0, 0), 1, 5 / H, transform=fig.transFigure, fc='#e1e3e6', ec='none'))

fig.savefig('out.png', dpi=100)
